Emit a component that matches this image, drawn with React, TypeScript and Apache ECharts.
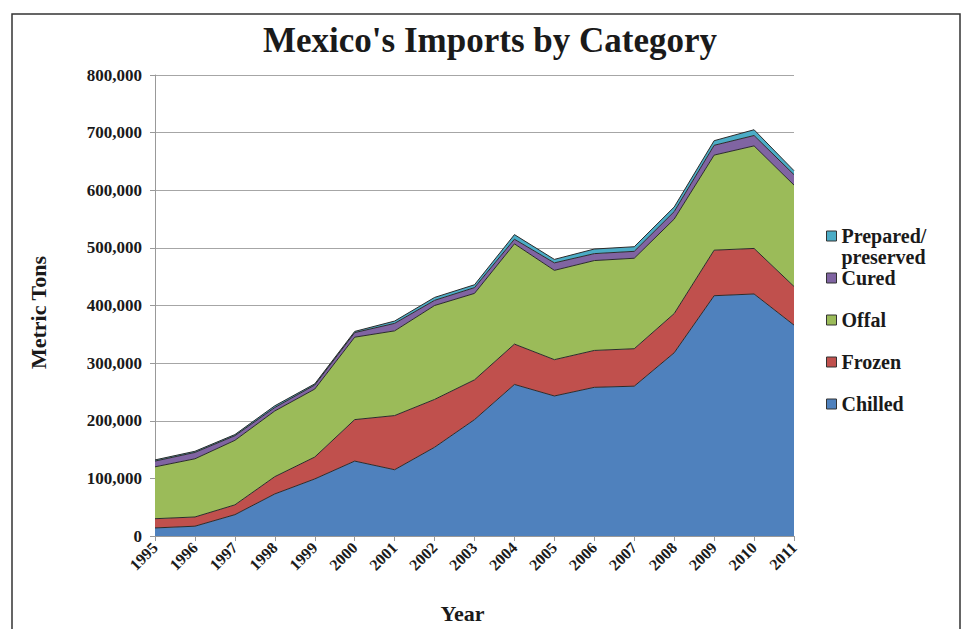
import React, { useEffect, useRef } from "react";
import * as echarts from "echarts";

const years = ["1995","1996","1997","1998","1999","2000","2001","2002","2003","2004","2005","2006","2007","2008","2009","2010","2011"];
const chilled = [14000,17000,37000,73000,99000,130000,115000,154000,202000,263000,243000,258000,260000,318000,417000,420000,366000];
const frozen = [16000,16000,17000,30000,38000,72000,94000,83000,69000,70000,63000,64000,65000,68000,79000,79000,67000];
const offal = [90000,101000,112000,114000,118000,143000,147000,163000,150000,174000,155000,156000,157000,164000,165000,178000,176000];
const cured = [10000,11000,8000,6000,7000,8000,13000,9000,10000,8000,13000,12000,12000,13000,17000,18000,18000];
const prepared = [2000,2000,2000,3000,2000,2000,4000,5000,5000,8000,6000,8000,8000,8000,8000,10000,7000];

const seriesNames = ["Chilled","Frozen","Offal","Cured","Prepared/preserved"];
const seriesColors = ["#4F81BD","#C0504D","#9BBB59","#8064A2","#4BACC6"];
const seriesData = [chilled, frozen, offal, cured, prepared];

const FONT = "'Liberation Serif', 'DejaVu Serif', serif";

export default function App() {
  const ref = useRef<HTMLDivElement>(null);
  useEffect(() => {
    if (!ref.current) return;
    const chart = echarts.init(ref.current, null, { renderer: "svg" });
    const legendCenters: Record<string, number> = {
      "Prepared/preserved": 236,
      Cured: 278,
      Offal: 320,
      Frozen: 362,
      Chilled: 404,
    };
    const LH = 21;
    const legends = seriesNames.map((name) => ({
      orient: "vertical",
      left: 826,
      top: name === "Prepared/preserved" ? legendCenters[name] - LH * 1.5 : legendCenters[name] - LH / 2,
      padding: 0,
      data: [name],
      icon: "rect",
      itemWidth: 10,
      itemHeight: 10,
      itemGap: 0,
      itemStyle: { borderColor: "#333", borderWidth: 1 },
      formatter: (n: string) => (n === "Prepared/preserved" ? "\nPrepared/\npreserved" : n),
      textStyle: {
        fontFamily: FONT,
        fontWeight: "bold",
        fontSize: 20,
        lineHeight: LH,
        color: "#1a1a1a",
        padding: [0, 0, 0, 0],
      },
    }));
    chart.setOption({
      animation: false,
      backgroundColor: "#ffffff",
      title: {
        text: "Mexico's Imports by Category",
        left: 485,
        textAlign: "center",
        top: 18,
        textStyle: { fontFamily: FONT, fontWeight: "bold", fontSize: 35, color: "#1a1a1a" },
      },
      graphic: [
        {
          type: "rect",
          shape: { x: 12, y: 14, width: 948, height: 700 },
          style: { fill: "none", stroke: "#333", lineWidth: 1.5 },
          silent: true,
          z: -1,
        },
      ],
      legend: legends,
      grid: { left: 155, right: 170, top: 75, bottom: 86, containLabel: false },
      xAxis: {
        type: "category",
        data: years,
        boundaryGap: false,
        name: "Year",
        nameLocation: "middle",
        nameGap: 66,
        nameTextStyle: { fontFamily: FONT, fontWeight: "bold", fontSize: 22, color: "#1a1a1a", padding: [0, 24, 0, 0] },
        axisLine: { show: true, lineStyle: { color: "#999", width: 1 } },
        axisTick: { show: true, alignWithLabel: true, length: 5, lineStyle: { color: "#999" } },
        axisLabel: {
          rotate: 45,
          margin: 9,
          fontFamily: FONT,
          fontWeight: "bold",
          fontSize: 16,
          color: "#1a1a1a",
          interval: 0,
        },
        splitLine: { show: false },
      },
      yAxis: {
        type: "value",
        min: 0,
        max: 800000,
        interval: 100000,
        name: "Metric Tons",
        nameLocation: "middle",
        nameRotate: 90,
        nameGap: 106,
        nameTextStyle: { fontFamily: FONT, fontWeight: "bold", fontSize: 22, color: "#1a1a1a", padding: [0, 14, 0, 0] },
        axisLine: { show: true, lineStyle: { color: "#999", width: 1 } },
        axisTick: { show: true, length: 5, lineStyle: { color: "#999" } },
        axisLabel: {
          margin: 13,
          fontFamily: FONT,
          fontWeight: "bold",
          fontSize: 17,
          color: "#1a1a1a",
          formatter: (v: number) => v.toLocaleString("en-US"),
        },
        splitLine: { show: true, lineStyle: { color: "#a6a6a6", width: 1 } },
      },
      series: seriesNames.map((name, i) => ({
        name,
        type: "line",
        stack: "total",
        data: seriesData[i],
        symbol: "none",
        showSymbol: false,
        color: seriesColors[i],
        itemStyle: { color: seriesColors[i] },
        lineStyle: { color: "#2b2b2b", width: 1 },
        areaStyle: { color: seriesColors[i], opacity: 1 },
        z: 2,
      })),
    });
    return () => chart.dispose();
  }, []);
  return (
    <div
      ref={ref}
      style={{ position: "absolute", left: 0, top: 0, width: 964, height: 629 }}
    />
  );
}
